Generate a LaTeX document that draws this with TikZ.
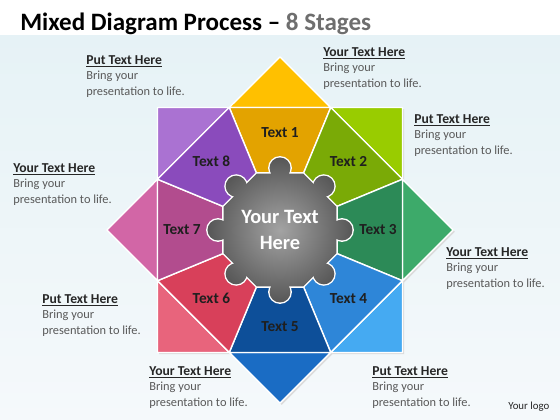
\documentclass[tikz,border=0pt]{standalone}
\usepackage{fontspec}
\setmainfont{Carlito}
\definecolor{bgtop}{HTML}{E6F2F6}
\definecolor{bgbot}{HTML}{F5F9FB}
\definecolor{titlegray}{HTML}{6E6E6E}
\definecolor{headgray}{HTML}{262626}
\definecolor{bodygray}{HTML}{595959}
\definecolor{yelA}{HTML}{FFC000}
\definecolor{yelB}{HTML}{E3A300}
\definecolor{limA}{HTML}{99CC00}
\definecolor{limB}{HTML}{7AAA06}
\definecolor{grnA}{HTML}{3DAA6A}
\definecolor{grnB}{HTML}{2C8A57}
\definecolor{skyA}{HTML}{45AAF2}
\definecolor{skyB}{HTML}{2E86D8}
\definecolor{bluA}{HTML}{1A6CC4}
\definecolor{bluB}{HTML}{0D4F99}
\definecolor{redA}{HTML}{E8647C}
\definecolor{redB}{HTML}{D8405A}
\definecolor{magA}{HTML}{D266A6}
\definecolor{magB}{HTML}{B24C8E}
\definecolor{purA}{HTML}{AA72D2}
\definecolor{purB}{HTML}{8A4BBC}
\newcommand{\blurbhead}[1]{\textcolor{headgray}{\fontsize{9.7}{11}\selectfont\bfseries\underline{#1}}}
\begin{document}
\begin{tikzpicture}[x=0.025cm,y=0.025cm,
    piece/.style={draw=white,line width=1pt,line join=round},
    stagetext/.style={font=\fontsize{10.9}{13}\selectfont\bfseries,text=black!88},
    blurb/.style={anchor=north west,inner sep=0pt,align=left,text=bodygray,
      font=\fontsize{8.8}{11}\selectfont}]
  % background and title band
  \shade[top color=bgtop,bottom color=bgbot] (-280,-190) rectangle (280,195);
  \fill[white] (-280,195) rectangle (280,230);
  \useasboundingbox (-280,-190) rectangle (280,230);
  \node[anchor=base west,inner sep=0pt,font=\fontsize{17.8}{20}\selectfont\bfseries]
    (title) at (-260,199) {Mixed Diagram Process \textendash{} \textcolor{titlegray}{8 Stages}};
  \node[anchor=base west,inner sep=0pt,font=\fontsize{7.7}{9}\selectfont,text=headgray]
    (logo) at (228,-180) {Your logo};

  % star points
  \path
    (0,0) coordinate (c)
    (90:173.2) coordinate (o1)
    (45:173.2) coordinate (o2)
    (0:173.2) coordinate (o3)
    (-45:173.2) coordinate (o4)
    (-90:173.2) coordinate (o5)
    (-135:173.2) coordinate (o6)
    (180:173.2) coordinate (o7)
    (135:173.2) coordinate (o8)
    (112.5:132.6) coordinate (v1)
    (67.5:132.6) coordinate (v2)
    (22.5:132.6) coordinate (v3)
    (-22.5:132.6) coordinate (v4)
    (-67.5:132.6) coordinate (v5)
    (-112.5:132.6) coordinate (v6)
    (-157.5:132.6) coordinate (v7)
    (157.5:132.6) coordinate (v8);

  % shadow
  \fill[black!14,transform canvas={shift={(1.2pt,-1.2pt)}}]
    (o1) -- (v2) -- (o2) -- (v3) -- (o3) -- (v4) -- (o4) -- (v5) -- (o5)
    -- (v6) -- (o6) -- (v7) -- (o7) -- (v8) -- (o8) -- (v1) -- cycle;

  % outer triangles
  \filldraw[piece,fill=yelA] (v1) -- (o1) -- (v2) -- cycle;
  \filldraw[piece,fill=limA] (v2) -- (o2) -- (v3) -- cycle;
  \filldraw[piece,fill=grnA] (v3) -- (o3) -- (v4) -- cycle;
  \filldraw[piece,fill=skyA] (v4) -- (o4) -- (v5) -- cycle;
  \filldraw[piece,fill=bluA] (v5) -- (o5) -- (v6) -- cycle;
  \filldraw[piece,fill=redA] (v6) -- (o6) -- (v7) -- cycle;
  \filldraw[piece,fill=magA] (v7) -- (o7) -- (v8) -- cycle;
  \filldraw[piece,fill=purA] (v8) -- (o8) -- (v1) -- cycle;

  % wedges
  \filldraw[piece,fill=yelB] (c) -- (v1) -- (v2) -- cycle;
  \filldraw[piece,fill=limB] (c) -- (v2) -- (v3) -- cycle;
  \filldraw[piece,fill=grnB] (c) -- (v3) -- (v4) -- cycle;
  \filldraw[piece,fill=skyB] (c) -- (v4) -- (v5) -- cycle;
  \filldraw[piece,fill=bluB] (c) -- (v5) -- (v6) -- cycle;
  \filldraw[piece,fill=redB] (c) -- (v6) -- (v7) -- cycle;
  \filldraw[piece,fill=magB] (c) -- (v7) -- (v8) -- cycle;
  \filldraw[piece,fill=purB] (c) -- (v8) -- (v1) -- cycle;

  % puzzle hub
  \draw[white,line width=2pt]
    (22.5:61) -- (67.5:61) -- (112.5:61) -- (157.5:61) -- (202.5:61)
    -- (247.5:61) -- (292.5:61) -- (337.5:61) -- cycle
    (0:62) circle (10.5) (45:62) circle (10.5) (90:62) circle (10.5) (135:62) circle (10.5)
    (180:62) circle (10.5) (225:62) circle (10.5) (270:62) circle (10.5) (315:62) circle (10.5);
  \shade[inner color=black!36,outer color=black!66]
    (22.5:61) -- (67.5:61) -- (112.5:61) -- (157.5:61) -- (202.5:61)
    -- (247.5:61) -- (292.5:61) -- (337.5:61) -- cycle
    (0:62) circle (10.5) (45:62) circle (10.5) (90:62) circle (10.5) (135:62) circle (10.5)
    (180:62) circle (10.5) (225:62) circle (10.5) (270:62) circle (10.5) (315:62) circle (10.5);
  \node[font=\fontsize{14.5}{18.5}\selectfont\bfseries,text=white,align=center]
    (hub) at (c) {Your Text\\Here};

  % stage labels
  \node[stagetext] (t1) at (90:97) {Text 1};
  \node[stagetext] (t2) at (45:97) {Text 2};
  \node[stagetext] (t3) at (0:98) {Text 3};
  \node[stagetext] (t4) at (-45:97) {Text 4};
  \node[stagetext] (t5) at (-90:97) {Text 5};
  \node[stagetext] (t6) at (-135:97) {Text 6};
  \node[stagetext] (t7) at (180:98) {Text 7};
  \node[stagetext] (t8) at (135:97) {Text 8};

  % side texts
  \node[blurb] (b1) at (-194,175) {\blurbhead{Put Text Here}\\Bring your\\presentation to life.};
  \node[blurb] (b2) at (43,183) {\blurbhead{Your Text Here}\\Bring your\\presentation to life.};
  \node[blurb] (b3) at (134,116) {\blurbhead{Put Text Here}\\Bring your\\presentation to life.};
  \node[blurb] (b4) at (-267,67) {\blurbhead{Your Text Here}\\Bring your\\presentation to life.};
  \node[blurb] (b5) at (166,-17) {\blurbhead{Your Text Here}\\Bring your\\presentation to life.};
  \node[blurb] (b6) at (-238,-64) {\blurbhead{Put Text Here}\\Bring your\\presentation to life.};
  \node[blurb] (b7) at (-131,-136) {\blurbhead{Your Text Here}\\Bring your\\presentation to life.};
  \node[blurb] (b8) at (92,-136) {\blurbhead{Put Text Here}\\Bring your\\presentation to life.};
\end{tikzpicture}
\end{document}
